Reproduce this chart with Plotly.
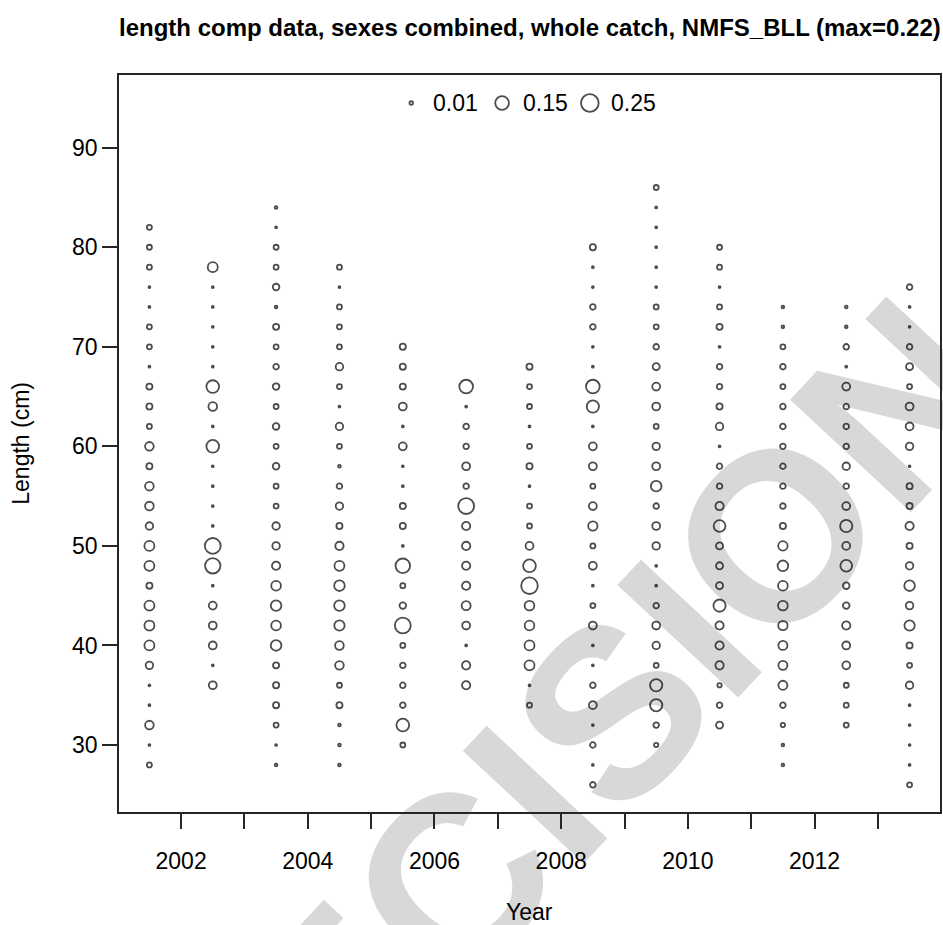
import plotly.graph_objects as go

# Length-composition bubbles: proportion of catch in each 2-cm length bin,
# sexes combined, NMFS_BLL fleet. Bins run 26..86 cm; None = no observation.
length_bins = [26, 28, 30, 32, 34, 36, 38, 40, 42, 44, 46, 48, 50, 52, 54, 56,
               58, 60, 62, 64, 66, 68, 70, 72, 74, 76, 78, 80, 82, 84, 86]

sample_time = [2001.5, 2002.5, 2003.5, 2004.5, 2005.5, 2006.5, 2007.5,
               2008.5, 2009.5, 2010.5, 2011.5, 2012.5, 2013.5]

N = None
prop_2001 = [N, .020, .003, .060, .003, .003, .045, .080, .080, .080, .030, .080, .080, .045, .060, .060,
             .030, .060, .020, .030, .030, .003, .020, .020, .003, .003, .020, .020, .020, N, N]
prop_2002 = [N, N, N, N, N, .050, .003, .050, .050, .050, .003, .190, .200, .003, .003, .003,
             .003, .130, .003, .060, .130, .003, .003, .003, .003, .003, .080, N, N, N, N]
prop_2003 = [N, .006, .003, .020, .030, .030, .030, .090, .075, .090, .075, .055, .045, .045, .020, .020,
             .035, .020, .035, .020, .035, .025, .020, .030, .006, .035, .020, .020, .003, .006, N]
prop_2004 = [N, .006, .006, .006, .030, .020, .060, .060, .085, .090, .090, .080, .055, .030, .045, .025,
             .006, .020, .045, .003, .020, .045, .020, .020, .020, .003, .020, N, N, N, N]
prop_2005 = [N, N, .020, .130, .025, .025, .025, .020, .200, .035, .020, .170, .003, .030, .030, .003,
             .003, .050, .003, .050, .030, .030, .030, N, N, N, N, N, N, N, N]
prop_2006 = [N, N, N, N, N, .055, .055, .003, .050, .065, .055, .055, .055, .055, .200, .025,
             .050, .025, .025, .003, .150, N, N, N, N, N, N, N, N, N, N]
prop_2007 = [N, N, N, N, .020, .003, .080, .080, .075, .075, .220, .130, .050, .020, .020, .003,
             .030, .020, .003, .020, .020, .030, N, N, N, N, N, N, N, N, N]
prop_2008 = [.025, .003, .025, .003, .050, .025, .003, .003, .050, .020, .003, .050, .020, .070, .050, .020,
             .050, .050, .003, .120, .150, .003, .003, .025, .025, .003, .003, .030, N, N, N]
prop_2009 = [N, N, .015, .025, .120, .120, .020, .045, .050, .025, .003, .003, .045, .050, .025, .090,
             .050, .045, .020, .050, .050, .040, .025, .020, .020, .003, .003, .003, .003, .003, .020]
prop_2010 = [N, N, N, .040, .025, .015, .055, .055, .055, .120, .040, .040, .040, .110, .055, .025,
             .025, .003, .045, .030, .025, .025, .003, .030, .020, .003, .020, .020, N, N, N]
prop_2011 = [N, .006, .006, .015, .025, .065, .065, .065, .070, .075, .075, .090, .070, .030, .025, .025,
             .025, .025, .025, .025, .020, .025, .020, .006, .006, N, N, N, N, N, N]
prop_2012 = [N, N, N, .020, .020, .020, .050, .050, .055, .035, .035, .110, .050, .120, .050, .025,
             .045, .025, .025, .025, .050, .003, .025, .006, .006, N, N, N, N, N, N]
prop_2013 = [.020, .003, .003, .003, .003, .045, .020, .030, .085, .045, .090, .045, .030, .055, .030, .030,
             .003, .045, .050, .050, .020, .040, .025, .003, .003, .025, N, N, N, N, N]

proportions = [prop_2001, prop_2002, prop_2003, prop_2004, prop_2005, prop_2006, prop_2007,
               prop_2008, prop_2009, prop_2010, prop_2011, prop_2012, prop_2013]

legend_values = [0.01, 0.15, 0.25]
legend_labels = ["0.01", "0.15", "0.25"]

x_ticks = list(range(2002, 2014))
x_ticktext = [str(y) if y % 2 == 0 else "" for y in x_ticks]
y_ticks = [30, 40, 50, 60, 70, 80, 90]

FONT = "Liberation Sans, Arial, sans-serif"
INK = "#262626"
SIZEREF = 0.0016  # bubble area proportional to proportion
STROKE = 1.8

xs, ys, zs = [], [], []
for t, props in zip(sample_time, proportions):
    for L, p in zip(length_bins, props):
        if p is not None:
            xs.append(t)
            ys.append(L)
            zs.append(p)

fig = go.Figure()

fig.add_trace(go.Scatter(
    x=xs, y=ys, mode="markers", showlegend=False, hoverinfo="x+y+text",
    text=[f"{z:.3f}" for z in zs],
    marker=dict(size=zs, sizemode="area", sizeref=SIZEREF, symbol="circle-open",
                color="black", line=dict(width=STROKE, color="black")),
))

# bubble-size key along the top of the panel
leg_x = [0.356, 0.4666, 0.5735]
fig.add_trace(go.Scatter(
    x=leg_x, y=[0.962] * 3, xaxis="x2", yaxis="y2", mode="markers",
    showlegend=False, hoverinfo="skip",
    marker=dict(size=legend_values, sizemode="area", sizeref=SIZEREF, symbol="circle-open",
                color="black", line=dict(width=STROKE, color="black")),
))
for lx, lab in zip(leg_x, legend_labels):
    fig.add_annotation(x=lx + 0.0235, y=0.962, xref="paper", yref="paper", text=lab,
                       showarrow=False, xanchor="left", yanchor="middle",
                       font=dict(family=FONT, size=23, color="black"))

axis_common = dict(showline=True, mirror=True, linecolor=INK, linewidth=1.6,
                   ticks="outside", ticklen=15, tickwidth=1.6, tickcolor=INK,
                   showgrid=False, zeroline=False,
                   tickfont=dict(family=FONT, size=23, color="black"))

fig.update_layout(
    width=943, height=925,
    margin=dict(l=119, r=1, t=75, b=113),
    paper_bgcolor="white", plot_bgcolor="white",
    xaxis=dict(range=[2001.02, 2013.98], tickvals=x_ticks, ticktext=x_ticktext,
               ticklabelstandoff=13, **axis_common),
    yaxis=dict(range=[23.27, 97.30], tickvals=y_ticks, **axis_common),
    xaxis2=dict(overlaying="x", range=[0, 1], visible=False),
    yaxis2=dict(overlaying="y", range=[0, 1], visible=False),
)

fig.add_annotation(x=0.5, y=1.0638, xref="paper", yref="paper", showarrow=False,
                   text="<b>length comp data, sexes combined, whole catch, NMFS_BLL (max=0.22)</b>",
                   xanchor="center", yanchor="middle",
                   font=dict(family=FONT, size=24, color="black"))
fig.add_annotation(x=-0.1203, y=0.5, xref="paper", yref="paper", showarrow=False,
                   text="Length (cm)", textangle=-90, xanchor="center", yanchor="middle",
                   font=dict(family=FONT, size=23, color="black"))
fig.add_annotation(x=0.5, y=-0.1357, xref="paper", yref="paper", showarrow=False,
                   text="Year", xanchor="center", yanchor="middle",
                   font=dict(family=FONT, size=23, color="black"))

# light grey diagonal watermark, kept beneath the data
fig.add_shape(type="rect", xref="paper", yref="paper", layer="below",
              x0=0.442, x1=0.452, y0=-0.006, y1=0.004,
              line=dict(width=0), fillcolor="rgba(0,0,0,0)",
              label=dict(text="<b>PREDECISIONAL</b>", textangle=-47,
                         textposition="middle center",
                         font=dict(family=FONT, size=240, color="#d8d8d8")))

fig.write_html("out.html")
